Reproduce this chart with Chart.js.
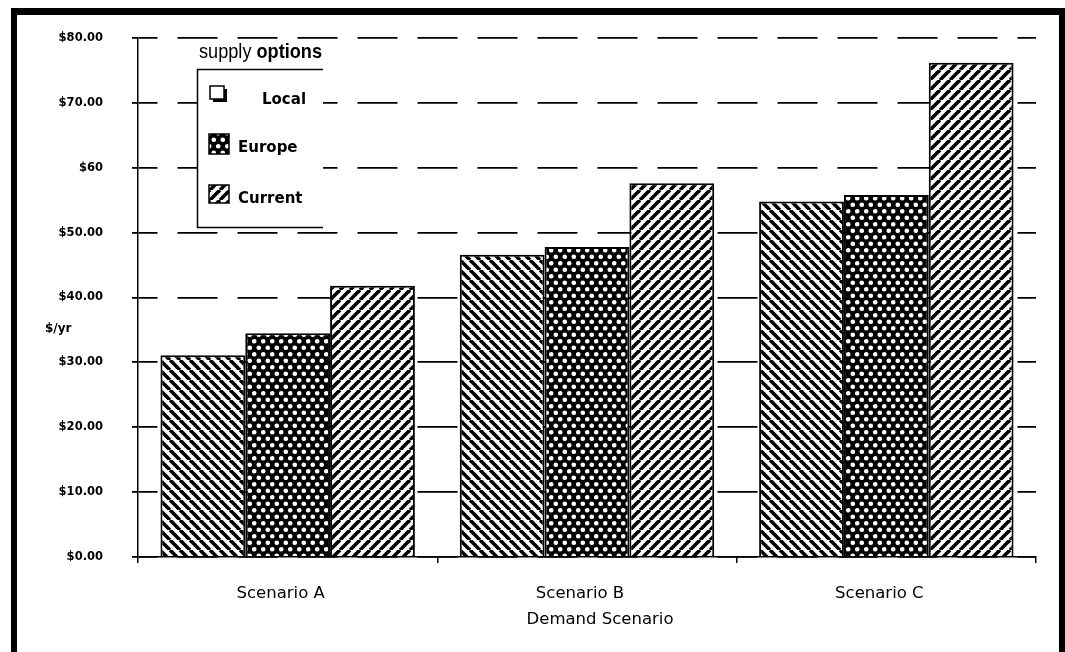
<!DOCTYPE html>
<html>
<head>
<meta charset="utf-8">
<script src="https://cdn.jsdelivr.net/npm/chart.js@4.4.1/dist/chart.umd.min.js"></script>
<style>
  html, body { margin: 0; padding: 0; background: #fff; }
  #chart { display: block; }
</style>
</head>
<body>
<canvas id="chart" width="1065" height="652"></canvas>
<script>
const categories = ["Scenario A", "Scenario B", "Scenario C"];
const seriesNames = ["Local", "Europe", "Current"];
const localCost = [31.1, 46.6, 54.8];
const europeCost = [34.5, 47.8, 55.8];
const currentCost = [41.8, 57.6, 76.2];
const yTickLabels = ["$0.00", "$10.00", "$20.00", "$30.00", "$40.00", "$50.00", "$60", "$70.00", "$80.00"];
const legendTitle = ["supply", "options"];
const yTitle = "$/yr";
const xTitle = "Demand Scenario";

const canvas = document.getElementById("chart");
const mainCtx = canvas.getContext("2d");

// hatch fills, like the old b/w print
function stripes(dir) {
  const s = 10;
  const c = document.createElement("canvas");
  c.width = s; c.height = s;
  const g = c.getContext("2d");
  g.fillStyle = "#fff";
  g.fillRect(0, 0, s, s);
  g.strokeStyle = "#000";
  g.lineWidth = 3.6;
  for (let k = -1; k <= 1; k++) {
    g.beginPath();
    if (dir > 0) { g.moveTo(k * s, s); g.lineTo(k * s + s, 0); }
    else { g.moveTo(k * s, 0); g.lineTo(k * s + s, s); }
    g.stroke();
  }
  return mainCtx.createPattern(c, "repeat");
}

function dots() {
  const w = 9, h = 13;
  const c = document.createElement("canvas");
  c.width = w; c.height = h;
  const g = c.getContext("2d");
  g.fillStyle = "#000";
  g.fillRect(0, 0, w, h);
  g.fillStyle = "#fff";
  [[2.25, 3.25], [6.75, 9.75]].forEach(p => {
    g.beginPath();
    g.arc(p[0], p[1], 2.3, 0, Math.PI * 2);
    g.fill();
  });
  return mainCtx.createPattern(c, "repeat");
}

const fills = [stripes(-1), dots(), stripes(1)];
const legendIcons = ["#fff", fills[1], fills[2]];

const legendBox = {
  id: "legendBox",
  afterDatasetsDraw(chart) {
    const ctx = chart.ctx;
    ctx.save();
    ctx.fillStyle = "#fff";
    ctx.fillRect(197, 69, 126, 159);
    ctx.strokeStyle = "#000";
    ctx.lineWidth = 1.5;
    ctx.beginPath();
    ctx.moveTo(323, 69.5);
    ctx.lineTo(197.5, 69.5);
    ctx.lineTo(197.5, 227.5);
    ctx.lineTo(323, 227.5);
    ctx.stroke();

    // condensed title
    ctx.fillStyle = "#000";
    ctx.textBaseline = "alphabetic";
    const f1 = '21px "Liberation Sans Narrow", "Liberation Sans"';
    const f2 = 'bold 21px "Liberation Sans Narrow", "Liberation Sans"';
    ctx.font = f1;
    const w1 = ctx.measureText(legendTitle[0] + " ").width;
    ctx.font = f2;
    const w2 = ctx.measureText(legendTitle[1]).width;
    const sx = 123 / (w1 + w2);
    ctx.save();
    ctx.translate(199, 58);
    ctx.scale(sx, 1);
    ctx.font = f1;
    ctx.fillText(legendTitle[0], 0, 0);
    ctx.font = f2;
    ctx.fillText(legendTitle[1], w1, 0);
    ctx.restore();

    const items = [
      { ix: 210, iy: 86, iw: 14, ih: 13, tx: 262, ty: 100 },
      { ix: 209, iy: 134, iw: 20, ih: 20, tx: 238, ty: 148 },
      { ix: 209, iy: 185, iw: 20, ih: 18, tx: 238, ty: 199 }
    ];
    chart.data.datasets.forEach((ds, i) => {
      const it = items[i];
      if (i === 0) {
        ctx.fillStyle = "#000";
        ctx.fillRect(it.ix + 3, it.iy + 3, it.iw, it.ih);
      }
      ctx.fillStyle = legendIcons[i];
      ctx.fillRect(it.ix, it.iy, it.iw, it.ih);
      ctx.lineWidth = 1.5;
      ctx.strokeStyle = "#000";
      ctx.strokeRect(it.ix, it.iy, it.iw, it.ih);
      ctx.fillStyle = "#000";
      ctx.font = 'bold 15px "DejaVu Sans"';
      ctx.textBaseline = "middle";
      ctx.fillText(ds.label, it.tx, it.ty);
    });
    ctx.restore();
  }
};

const frame = {
  id: "frame",
  beforeDraw(chart) {
    const ctx = chart.ctx;
    ctx.save();
    ctx.fillStyle = "#fff";
    ctx.fillRect(0, 0, chart.width, chart.height);
    ctx.restore();
  },
  afterDraw(chart) {
    const ctx = chart.ctx;
    ctx.save();
    ctx.fillStyle = "#000";
    ctx.fillRect(11, 8, chart.width - 11, 7);
    ctx.fillRect(11, 8, 6, chart.height - 8);
    ctx.fillRect(1059, 8, 6, chart.height - 8);
    ctx.font = 'bold 12px "DejaVu Sans"';
    ctx.textBaseline = "middle";
    ctx.fillText(yTitle, 45, 329);
    // axis title sits a bit right of centre in the scan
    ctx.font = '16.5px "DejaVu Sans"';
    ctx.textAlign = "center";
    ctx.fillText(xTitle, 600, 620);
    ctx.restore();
  }
};

new Chart(canvas, {
  type: "bar",
  data: {
    labels: categories,
    datasets: [
      { label: seriesNames[0], data: localCost, backgroundColor: fills[0] },
      { label: seriesNames[1], data: europeCost, backgroundColor: fills[1] },
      { label: seriesNames[2], data: currentCost, backgroundColor: fills[2] }
    ].map(d => Object.assign(d, { borderColor: "#000", borderWidth: 2, barPercentage: 1, categoryPercentage: 0.85 }))
  },
  options: {
    responsive: false,
    animation: false,
    devicePixelRatio: 1,
    layout: { padding: { top: 38, right: 29, left: 0, bottom: 0 } },
    plugins: { legend: { display: false }, tooltip: { enabled: false } },
    scales: {
      x: {
        grid: { display: true, drawOnChartArea: false, offset: true, tickLength: 6, color: "#000", lineWidth: 1.5 },
        border: { color: "#000", width: 1.5 },
        ticks: { color: "#000", font: { family: "DejaVu Sans", size: 16.5 }, padding: 21, maxRotation: 0, labelOffset: -7 },
        afterFit(scale) { scale.height = 95; }
      },
      y: {
        min: 0,
        max: 80,
        grid: { color: "#000", lineWidth: 1.8, tickLength: 6, tickBorderDash: [] },
        border: { color: "#000", width: 1.5, dash: [40, 20], dashOffset: 21 },
        ticks: {
          stepSize: 10,
          color: "#000",
          padding: 29,
          font: { family: "DejaVu Sans", size: 11.5, weight: "bold" },
          callback: v => yTickLabels[v / 10]
        },
        afterFit(scale) { scale.width = 138; }
      }
    }
  },
  plugins: [frame, legendBox]
});
</script>
</body>
</html>
